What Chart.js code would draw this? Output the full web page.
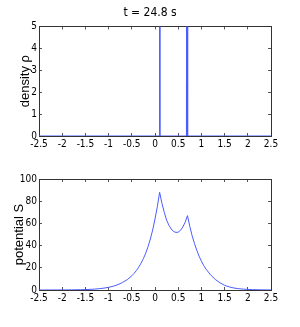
<!DOCTYPE html>
<html>
<head>
<meta charset="utf-8">
<script src="https://cdn.jsdelivr.net/npm/chart.js@4.4.1/dist/chart.umd.min.js"></script>
<style>
  html, body { margin: 0; padding: 0; background: #fff; }
  #wrap { position: relative; width: 300px; height: 327px; }
  #densityChart { position: absolute; left: 0; top: 0; }
  #potentialChart { position: absolute; left: 0; top: 160px; }
</style>
</head>
<body>
<div id="wrap">
  <canvas id="densityChart" width="300" height="160"></canvas>
  <canvas id="potentialChart" width="300" height="167"></canvas>
</div>
<script>
// Data
const titleText = 't = 24.8 s';

// density rho: zero everywhere except two narrow spikes (clipped at 5)
const densityX = [-2.5, 0.09, 0.1, 0.11, 0.68, 0.69, 0.70, 0.71, 2.5];
const densityRho = [0, 0, 60, 0, 0, 60, 60, 0, 0];

// potential S
const potentialX = [
    -2.5, -2.4, -2.3, -2.2, -2.1, -2.0, -1.9, -1.8, -1.7, -1.6, -1.5,
    -1.4, -1.3, -1.2, -1.1, -1.0, -0.9, -0.8, -0.7, -0.6, -0.5,
    -0.45, -0.4, -0.35, -0.3, -0.25, -0.2, -0.15, -0.1, -0.05, 0, 0.05, 0.1,
    0.15, 0.2, 0.25, 0.3, 0.35, 0.4, 0.45, 0.5, 0.55, 0.6, 0.65, 0.7,
    0.75, 0.8, 0.85, 0.9, 0.95, 1.0, 1.05, 1.1,
    1.2, 1.3, 1.4, 1.5, 1.6, 1.7, 1.8, 1.9, 2.0, 2.1, 2.2, 2.3, 2.4, 2.5
];
const potentialS = [
    0.01, 0.01, 0.02, 0.03, 0.05, 0.07, 0.1, 0.14, 0.2, 0.28, 0.4,
    0.55, 0.8, 1.2, 1.7, 2.4, 3.4, 4.8, 6.8, 9.3, 12.8,
    15, 17.6, 20.6, 24.2, 28.3, 33.2, 39, 46, 54, 64, 75, 88,
    78, 70, 63, 58.3, 55, 52.7, 51.9, 52.1, 53.8, 56.8, 61, 67,
    57.3, 49, 41.9, 35.9, 30.5, 26, 22, 18.8,
    13.5, 9.5, 6.5, 4.2, 2.8, 1.8, 1.2, 0.8, 0.5, 0.35, 0.25, 0.15, 0.1, 0.05
];

const xMin = -2.5, xMax = 2.5, xStep = 0.5;
const densityMax = 5, densityStep = 1;
const potentialMax = 100, potentialStep = 20;

const lineColor = '#4a5cff';
const boxColor = '#333333';
const tickFont = { family: '"Liberation Sans Narrow", "DejaVu Sans Condensed", sans-serif', size: 10 };
const labelFont = { family: '"Liberation Sans", Arial, sans-serif', size: 13 };

function toPoints(xs, ys) {
    return xs.map((x, i) => ({ x: x, y: ys[i] }));
}

// plain number labels like "-2" / "0.5" instead of "-2.0"
const plainLabel = v => String(Math.round(v * 10) / 10);

function makeScales(yMax, yStep, yTitle, titlePad, xHeight) {
    const grid = { drawOnChartArea: false, tickLength: -3, color: '#555555', lineWidth: 1 };
    const border = { color: boxColor, width: 1 };
    return {
        x: {
            type: 'linear', position: 'bottom', min: xMin, max: xMax,
            ticks: { stepSize: xStep, font: tickFont, color: '#000', padding: 5, maxRotation: 0, callback: plainLabel },
            grid: grid, border: border,
            afterFit: s => { s.height = xHeight; }
        },
        x2: {
            type: 'linear', position: 'top', min: xMin, max: xMax,
            ticks: { stepSize: xStep, display: false },
            grid: grid, border: border,
            afterFit: s => { s.height = 0; }
        },
        y: {
            type: 'linear', position: 'left', min: 0, max: yMax,
            ticks: { stepSize: yStep, font: tickFont, color: '#000', padding: 5, callback: plainLabel },
            grid: grid, border: border,
            title: { display: true, text: yTitle, font: labelFont, color: '#000', padding: { top: titlePad, bottom: 0 } },
            afterFit: s => { s.width = 39; }
        },
        y2: {
            type: 'linear', position: 'right', min: 0, max: yMax,
            ticks: { stepSize: yStep, display: false },
            grid: grid, border: border,
            afterFit: s => { s.width = 29; }
        }
    };
}

const densityChart = new Chart(document.getElementById('densityChart'), {
    type: 'line',
    data: {
        datasets: [{
            data: toPoints(densityX, densityRho),
            borderColor: lineColor,
            borderWidth: 1.2,
            pointRadius: 0,
            tension: 0,
            fill: false
        }]
    },
    options: {
        responsive: false,
        animation: false,
        layout: { padding: 0 },
        plugins: {
            legend: { display: false },
            tooltip: { enabled: false },
            title: {
                display: true,
                text: titleText,
                color: '#000',
                font: { family: tickFont.family, size: 12, weight: 'normal' },
                padding: { top: 6, bottom: 6 }
            }
        },
        scales: makeScales(densityMax, densityStep, 'density ρ', 18, 24)
    }
});

const potentialChart = new Chart(document.getElementById('potentialChart'), {
    type: 'line',
    data: {
        datasets: [{
            data: toPoints(potentialX, potentialS),
            borderColor: lineColor,
            borderWidth: 1,
            pointRadius: 0,
            tension: 0,
            fill: false
        }]
    },
    options: {
        responsive: false,
        animation: false,
        layout: { padding: { left: 0, right: 0, top: 19, bottom: 0 } },
        plugins: {
            legend: { display: false },
            tooltip: { enabled: false }
        },
        scales: makeScales(potentialMax, potentialStep, 'potential S', 12, 37)
    }
});
</script>
</body>
</html>
